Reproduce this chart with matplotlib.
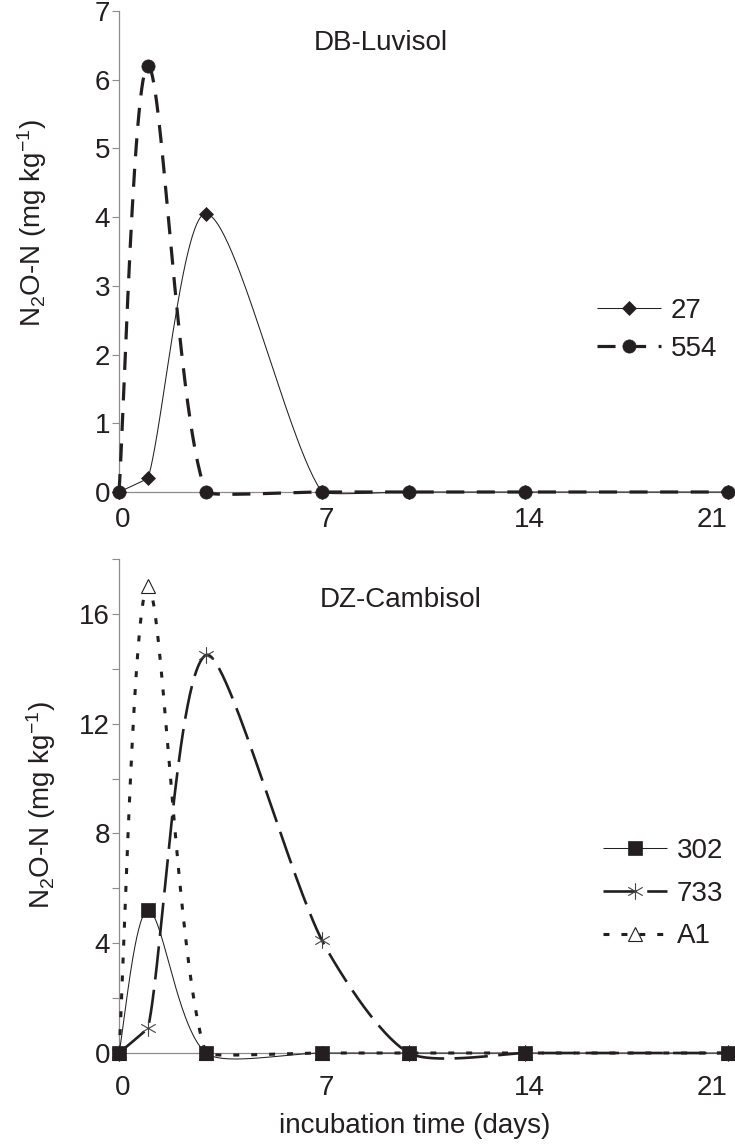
import numpy as np
import matplotlib
matplotlib.use("Agg")
import matplotlib.pyplot as plt
from matplotlib.path import Path
from matplotlib.legend_handler import HandlerTuple
from matplotlib.transforms import ScaledTranslation

plt.rcParams['font.family'] = ['Liberation Sans', 'DejaVu Sans']
plt.rcParams['mathtext.fontset'] = 'custom'
plt.rcParams['mathtext.rm'] = 'Liberation Sans'
plt.rcParams['mathtext.it'] = 'Liberation Sans:italic'
plt.rcParams['lines.scale_dashes'] = False

# ---------------- data ----------------
days = [0, 1, 3, 7, 10, 14, 21]

luvisol_27 = [0, 0.2, 4.05, 0, 0, 0, 0]
luvisol_554 = [0, 6.2, 0, 0, 0, 0, 0]

cambisol_302 = [0, 5.2, 0, 0, 0, 0, 0]
cambisol_733 = [0, 0.9, 14.5, 4.1, 0, 0, 0]
cambisol_A1 = [0, 17.0, 0, 0, 0, 0, 0]

x_ticks = [0, 7, 14, 21]
top_yticks = [0, 1, 2, 3, 4, 5, 6, 7]
bot_yticks = [0, 2, 4, 6, 8, 10, 12, 14, 16, 18]
bot_ylabels = ['0', '', '4', '', '8', '', '12', '', '16', '']

TXT = '#231f20'
DARK = '#231f20'
AXC = '#8c8c8c'
FS = 20

fig = plt.figure(figsize=(7.35, 11.48), dpi=100)
W, H = 735, 1148
ax1 = fig.add_axes([119 / W, 1 - 492 / H, 609 / W, 481 / H])
ax2 = fig.add_axes([119 / W, 1 - 1053 / H, 609 / W, 494 / H])


def style_axes(ax, ymax, yticks, ylabels, xpad):
    ax.set_xlim(0, 21)
    ax.set_ylim(0, ymax)
    for s in ['top', 'right']:
        ax.spines[s].set_visible(False)
    for s in ['left', 'bottom']:
        ax.spines[s].set_color(AXC)
        ax.spines[s].set_linewidth(0.9)
        ax.spines[s].set_zorder(0.5)
    ax.set_xticks(x_ticks)
    ax.set_xticklabels([str(v) for v in x_ticks])
    ax.set_yticks(yticks)
    ax.set_yticklabels(ylabels)
    ax.tick_params(axis='x', length=0, pad=xpad, labelsize=FS, labelcolor=TXT)
    ax.tick_params(axis='y', length=5, width=0.8, color=AXC, direction='out',
                   pad=1.5, labelsize=FS, labelcolor=TXT)
    labels = ax.get_xticklabels()
    for lab in labels[:-1]:
        lab.set_transform(lab.get_transform() + ScaledTranslation(4 / 100, 0, fig.dpi_scale_trans))
    labels[-1].set_horizontalalignment('right')
    labels[-1].set_transform(labels[-1].get_transform() + ScaledTranslation(-1 / 100, 0, fig.dpi_scale_trans))


style_axes(ax1, 7, top_yticks, [str(v) for v in top_yticks], 11)
style_axes(ax2, 18, bot_yticks, bot_ylabels, 16)


def tangent_parts(a, b, c):
    v = (c - a) / 6.0
    dab = np.hypot(*(b - a))
    dbc = np.hypot(*(c - b))
    fb = 1.0 if dbc == 0 else min(1.0, dab / dbc) ** 2
    fa = 1.0 if dab == 0 else min(1.0, dbc / dab) ** 2
    return v * fb, v * fa


def smooth(ax, xs, ys, n=60):
    pts = ax.transData.transform(np.column_stack([xs, ys]).astype(float))
    N = len(pts)
    out = [pts[0]]
    t = np.linspace(0, 1, n)[1:, None]
    for i in range(N - 1):
        p0 = pts[i - 1] if i > 0 else pts[i]
        p1, p2 = pts[i], pts[i + 1]
        p3 = pts[i + 2] if i + 2 < N else pts[i + 1]
        _, after = tangent_parts(p0, p1, p2)
        before, _ = tangent_parts(p1, p2, p3)
        c1 = p1 + after
        c2 = p2 - before
        seg = ((1 - t) ** 3) * p1 + 3 * ((1 - t) ** 2) * t * c1 + 3 * (1 - t) * t ** 2 * c2 + t ** 3 * p2
        out.extend(seg)
    data = ax.transData.inverted().transform(np.array(out))
    return data[:, 0], data[:, 1]


star_path = Path(
    [(0, -1), (0, 1), (-0.87, -0.5), (0.87, 0.5), (-0.87, 0.5), (0.87, -0.5)],
    [Path.MOVETO, Path.LINETO, Path.MOVETO, Path.LINETO, Path.MOVETO, Path.LINETO])


def series(ax, ys, line_kw, marker_kw, z):
    sx, sy = smooth(ax, days, ys)
    ln, = ax.plot(sx, sy, clip_on=False, zorder=z, solid_capstyle='butt',
                  dash_capstyle='butt', **line_kw)
    mk, = ax.plot(days, ys, linestyle='none', clip_on=False, zorder=z + 0.1, **marker_kw)
    return ln, mk


HT = {tuple: HandlerTuple(ndivide=1, pad=0)}

# ---------------- top panel ----------------
h27 = series(ax1, luvisol_27,
             dict(color=DARK, lw=0.75),
             dict(marker='D', ms=7.2, mfc=DARK, mec=DARK, mew=0.5), 2)
h554 = series(ax1, luvisol_554,
              dict(color=DARK, lw=2.3, linestyle=(0, (13, 9))),
              dict(marker='o', ms=9.5, mfc=DARK, mec=DARK, mew=0.5), 3)

ax1.text(0.319, 0.933, 'DB-Luvisol', transform=ax1.transAxes, fontsize=FS,
         color=TXT, ha='left', va='center')
ax1.set_ylabel(r'N$_2$O-N (mg kg$^{-1}$)', fontsize=FS, color=TXT, va='center')
ax1.yaxis.set_label_coords(-0.143, 0.559)

ax1.legend([tuple(h27), tuple(h554)], ['27', '554'], handler_map=HT,
           loc='upper left', bbox_to_anchor=(0.785, 0.404), frameon=False,
           fontsize=FS, handlelength=2.3, handletextpad=0.35, labelspacing=0.45,
           borderpad=0, borderaxespad=0, numpoints=1, labelcolor=TXT)

# ---------------- bottom panel ----------------
hA1 = series(ax2, cambisol_A1,
             dict(color=DARK, lw=2.2, linestyle=(0, (4.3, 8.6))),
             dict(marker='^', ms=9.5, mfc='white', mec=DARK, mew=0.8), 2)
h733 = series(ax2, cambisol_733,
              dict(color=DARK, lw=1.9, linestyle=(0, (24, 7.5))),
              dict(marker=star_path, ms=12, mfc='none', mec='#444444', mew=0.8), 3)
h302 = series(ax2, cambisol_302,
              dict(color=DARK, lw=0.75),
              dict(marker='s', ms=10.3, mfc=DARK, mec=DARK, mew=0.5), 4)

ax2.text(0.33, 0.917, 'DZ-Cambisol', transform=ax2.transAxes, fontsize=FS,
         color=TXT, ha='left', va='center')
ax2.set_ylabel(r'N$_2$O-N (mg kg$^{-1}$)', fontsize=FS, color=TXT, va='center')
ax2.yaxis.set_label_coords(-0.128, 0.502)
ax2.set_xlabel('incubation time (days)', fontsize=FS, color=TXT, va='center')
ax2.xaxis.set_label_coords(0.486, -(1126 - 1053) / 494)

ax2.legend([tuple(h302), tuple(h733), tuple(hA1)], ['302', '733', 'A1'], handler_map=HT,
           loc='upper left', bbox_to_anchor=(0.795, 0.435), frameon=False,
           fontsize=FS, handlelength=2.3, handletextpad=0.35, labelspacing=0.6,
           borderpad=0, borderaxespad=0, numpoints=1, labelcolor=TXT)

fig.savefig('out.png', dpi=100)
